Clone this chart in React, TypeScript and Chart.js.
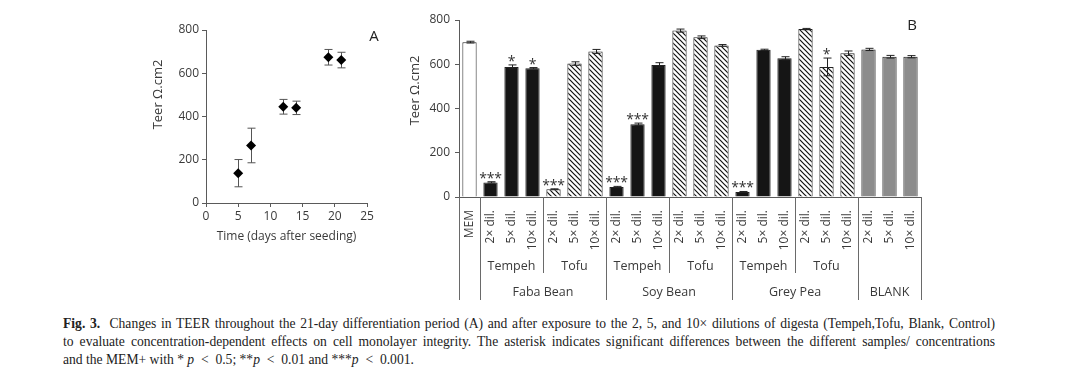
import React, { useEffect, useRef } from "react";
import { Chart, registerables } from "chart.js";
Chart.register(...registerables);

const FONT = "'Open Sans', sans-serif";
const TEXT = "#3a3a3a";
const AXIS = "#5a5a5a";

// ---------- Panel A data ----------
const daysA = [5, 7, 12, 14, 19, 21];
const teerA = [138, 266, 445, 440, 674, 661];
const errA = [63, 80, 34, 31, 36, 36];

// ---------- Panel B data ----------
const labelsB = [
  "MEM",
  "2× dil.", "5× dil.", "10× dil.",
  "2× dil.", "5× dil.", "10× dil.",
  "2× dil.", "5× dil.", "10× dil.",
  "2× dil.", "5× dil.", "10× dil.",
  "2× dil.", "5× dil.", "10× dil.",
  "2× dil.", "5× dil.", "10× dil.",
  "2× dil.", "5× dil.", "10× dil.",
];
const valuesB = [
  700,
  66, 588, 582,
  35, 603, 658,
  45, 329, 597,
  752, 722, 685,
  23, 665, 627,
  759, 588, 650,
  667, 634, 634,
];
const errB = [
  4,
  3, 9, 3,
  2, 8, 9,
  3, 5, 10,
  7, 6, 4,
  2, 3, 7,
  3, 40, 10,
  5, 6, 5,
];
const kindB = [
  "MEM",
  "Tempeh", "Tempeh", "Tempeh", "Tofu", "Tofu", "Tofu",
  "Tempeh", "Tempeh", "Tempeh", "Tofu", "Tofu", "Tofu",
  "Tempeh", "Tempeh", "Tempeh", "Tofu", "Tofu", "Tofu",
  "Blank", "Blank", "Blank",
];
const starsB = [
  "",
  "***", "*", "*", "***", "", "",
  "***", "***", "", "", "", "",
  "***", "", "", "", "*", "",
  "", "", "",
];
const groupNamesB = ["Faba Bean", "Soy Bean", "Grey Pea", "BLANK"];
const groupSizesB = [6, 6, 6, 3];
const subNamesB = [["Tempeh", "Tofu"], ["Tempeh", "Tofu"], ["Tempeh", "Tofu"], []];

function makeHatch(): CanvasPattern | string {
  const c = document.createElement("canvas");
  const s = 5;
  c.width = s;
  c.height = s;
  const g = c.getContext("2d");
  if (!g) return "#fff";
  g.fillStyle = "#fff";
  g.fillRect(0, 0, s, s);
  g.strokeStyle = "#111";
  g.lineWidth = 1.2;
  g.beginPath();
  g.moveTo(-1, -1);
  g.lineTo(s + 1, s + 1);
  g.moveTo(-1, s - 1);
  g.lineTo(1, s + 1);
  g.moveTo(s - 1, -1);
  g.lineTo(s + 1, 1);
  g.stroke();
  return g.createPattern(c, "repeat") || "#fff";
}

const errorPluginA = {
  id: "errA",
  beforeDatasetsDraw(chart: any) {
    const { ctx } = chart;
    const xs = chart.scales.x;
    const ys = chart.scales.y;
    ctx.save();
    ctx.strokeStyle = "#555";
    ctx.lineWidth = 1;
    daysA.forEach((d, i) => {
      const x = Math.round(xs.getPixelForValue(d)) + 0.5;
      const yt = ys.getPixelForValue(teerA[i] + errA[i]);
      const yb = ys.getPixelForValue(teerA[i] - errA[i]);
      ctx.beginPath();
      ctx.moveTo(x, yt);
      ctx.lineTo(x, yb);
      ctx.moveTo(x - 4, yt);
      ctx.lineTo(x + 4, yt);
      ctx.moveTo(x - 4, yb);
      ctx.lineTo(x + 4, yb);
      ctx.stroke();
    });
    ctx.restore();
  },
  afterDraw(chart: any) {
    const { ctx, chartArea } = chart;
    ctx.save();
    ctx.fillStyle = TEXT;
    ctx.font = `13px ${FONT}`;
    ctx.translate(18, (chartArea.top + chartArea.bottom) / 2 - 22);
    ctx.rotate(-Math.PI / 2);
    ctx.textAlign = "center";
    ctx.textBaseline = "middle";
    ctx.fillText("Teer Ω.cm2", 0, 0);
    ctx.restore();
    ctx.save();
    ctx.fillStyle = "#222";
    ctx.font = `15px ${FONT}`;
    ctx.textAlign = "center";
    ctx.textBaseline = "middle";
    ctx.fillText("A", chartArea.right + 7, chartArea.top + 7);
    ctx.restore();
  },
};

const plotPluginB = {
  id: "plotB",
  afterDatasetsDraw(chart: any) {
    const { ctx } = chart;
    const ys = chart.scales.y;
    const meta = chart.getDatasetMeta(0);
    ctx.save();
    ctx.strokeStyle = "#222";
    ctx.lineWidth = 1;
    valuesB.forEach((v, i) => {
      const x = Math.round(meta.data[i].x) + 0.5;
      const yt = ys.getPixelForValue(v + errB[i]);
      const yb = ys.getPixelForValue(v - errB[i]);
      ctx.beginPath();
      ctx.moveTo(x, yt);
      ctx.lineTo(x, yb);
      ctx.moveTo(x - 4, yt);
      ctx.lineTo(x + 4, yt);
      ctx.moveTo(x - 4, yb);
      ctx.lineTo(x + 4, yb);
      ctx.stroke();
    });
    ctx.fillStyle = "#333";
    ctx.font = `14px ${FONT}`;
    ctx.textAlign = "center";
    ctx.textBaseline = "alphabetic";
    starsB.forEach((s, i) => {
      if (!s) return;
      const x = meta.data[i].x;
      const y = ys.getPixelForValue(valuesB[i] + errB[i]) + 1;
      const n = s.length;
      for (let k = 0; k < n; k++) {
        ctx.fillText("*", x + (k - (n - 1) / 2) * 7.5, y);
      }
    });
    ctx.restore();
  },
  afterDraw(chart: any) {
    const { ctx, chartArea } = chart;
    const xs = chart.scales.x;
    const band = xs.getPixelForValue(1) - xs.getPixelForValue(0);
    const edge = (i: number) => xs.getPixelForValue(i) - band / 2;
    const top = xs.top;
    const fullBottom = top + 103;
    const partBottom = top + 76;
    ctx.save();
    ctx.strokeStyle = "#6a6a6a";
    ctx.lineWidth = 1;
    const line = (x: number, y2: number) => {
      const px = Math.round(x) + 0.5;
      ctx.beginPath();
      ctx.moveTo(px, top);
      ctx.lineTo(px, y2);
      ctx.stroke();
    };
    line(edge(0), fullBottom);
    line(edge(1), fullBottom);
    ctx.fillStyle = TEXT;
    ctx.font = `12.5px ${FONT}`;
    ctx.textAlign = "center";
    ctx.textBaseline = "middle";
    let idx = 1;
    groupSizesB.forEach((n, g) => {
      const start = idx;
      const end = idx + n;
      const subs = subNamesB[g];
      if (subs.length) {
        const per = n / subs.length;
        subs.forEach((name, k) => {
          const a = edge(start + k * per);
          const b = edge(start + (k + 1) * per);
          ctx.fillText(name, (a + b) / 2, top + 69);
          if (k > 0) line(a, partBottom);
        });
      }
      ctx.fillText(groupNamesB[g], (edge(start) + edge(end)) / 2, top + 95);
      line(edge(end), fullBottom);
      idx = end;
    });
    ctx.restore();

    ctx.save();
    ctx.fillStyle = TEXT;
    ctx.font = `13px ${FONT}`;
    ctx.translate(15, (chartArea.top + chartArea.bottom) / 2 - 18);
    ctx.rotate(-Math.PI / 2);
    ctx.textAlign = "center";
    ctx.textBaseline = "middle";
    ctx.fillText("Teer Ω.cm2", 0, 0);
    ctx.restore();

    ctx.save();
    ctx.fillStyle = "#222";
    ctx.font = `15px ${FONT}`;
    ctx.textAlign = "center";
    ctx.textBaseline = "middle";
    ctx.fillText("B", chartArea.right - 9, chartArea.top + 6);
    ctx.restore();
  },
};

export default function App() {
  const refA = useRef<HTMLCanvasElement>(null);
  const refB = useRef<HTMLCanvasElement>(null);

  useEffect(() => {
    const tickFont = { family: FONT, size: 12 };
    const hatch = makeHatch();
    const fillFor = (k: string) =>
      k === "Tempeh" ? "#151515" : k === "Tofu" ? hatch : k === "Blank" ? "#8c8c8c" : "#ffffff";

    const a = new Chart(refA.current as HTMLCanvasElement, {
      type: "scatter",
      data: {
        datasets: [
          {
            data: daysA.map((d, i) => ({ x: d, y: teerA[i] })),
            pointStyle: "rectRot",
            pointRadius: 5,
            backgroundColor: "#000",
            borderColor: "#000",
            borderWidth: 0,
          },
        ],
      },
      options: {
        responsive: false,
        animation: false,
        layout: { padding: { left: 0, top: 20, right: 33, bottom: 0 } },
        plugins: { legend: { display: false }, tooltip: { enabled: false } },
        scales: {
          x: {
            type: "linear",
            min: 0,
            max: 25,
            ticks: { stepSize: 5, color: TEXT, font: tickFont, padding: 2 },
            grid: { display: true, drawOnChartArea: false, drawTicks: true, tickLength: 4, color: AXIS },
            border: { display: true, color: AXIS, width: 1 },
            title: {
              display: true,
              text: "Time (days after seeding)",
              color: TEXT,
              font: { family: FONT, size: 12 },
              padding: { top: 0, bottom: 11 },
            },
            afterFit: (s: any) => {
              s.height = 52;
            },
          },
          y: {
            min: 0,
            max: 800,
            ticks: { stepSize: 200, color: TEXT, font: tickFont, padding: 3 },
            grid: { display: true, drawOnChartArea: false, drawTicks: true, tickLength: 4, color: AXIS },
            border: { display: true, color: AXIS, width: 1 },
            afterFit: (s: any) => {
              s.width = 66;
            },
          },
        },
      } as any,
      plugins: [errorPluginA],
    });

    const b = new Chart(refB.current as HTMLCanvasElement, {
      type: "bar",
      data: {
        labels: labelsB,
        datasets: [
          {
            data: valuesB,
            backgroundColor: kindB.map(fillFor) as any,
            borderColor: "#222",
            borderWidth: 1,
            barPercentage: 0.68,
            categoryPercentage: 1,
          },
        ],
      },
      options: {
        responsive: false,
        animation: false,
        layout: { padding: { left: 0, top: 15, right: 19, bottom: 0 } },
        plugins: { legend: { display: false }, tooltip: { enabled: false } },
        scales: {
          x: {
            ticks: { autoSkip: false, minRotation: 90, maxRotation: 90, padding: 5, color: TEXT, font: tickFont },
            grid: { display: false },
            border: { display: true, color: AXIS, width: 1 },
            afterFit: (s: any) => {
              s.height = 113;
            },
          },
          y: {
            min: 0,
            max: 800,
            ticks: { stepSize: 200, color: TEXT, font: tickFont, padding: 5 },
            grid: { display: true, drawOnChartArea: false, drawTicks: true, tickLength: 4, color: AXIS },
            border: { display: true, color: AXIS, width: 1 },
            afterFit: (s: any) => {
              s.width = 59;
            },
          },
        },
      } as any,
      plugins: [plotPluginB],
    });

    return () => {
      a.destroy();
      b.destroy();
    };
  }, []);

  const capLine: React.CSSProperties = {
    whiteSpace: "nowrap",
    height: 18,
    lineHeight: "18px",
  };
  const lt = "\u2002<\u2002";

  return (
    <div
      style={{
        position: "fixed",
        left: 0,
        top: 0,
        width: 1080,
        height: 385,
        background: "#fff",
        overflow: "hidden",
      }}
    >
      <canvas
        ref={refA}
        width={260}
        height={245}
        style={{ position: "absolute", left: 140, top: 10, width: 260, height: 245 }}
      />
      <canvas
        ref={refB}
        width={540}
        height={305}
        style={{ position: "absolute", left: 400, top: 5, width: 540, height: 305 }}
      />
      <div
        style={{
          position: "absolute",
          left: 63,
          top: 315,
          width: 932,
          fontFamily: "'Liberation Serif', serif",
          fontSize: 13.6,
          color: "#222",
        }}
      >
        <div style={{ ...capLine, textAlign: "justify", textAlignLast: "justify" }}>
          <b>Fig. 3.</b>&nbsp;&nbsp;Changes in TEER throughout the 21-day differentiation period (A) and after exposure to
          the 2, 5, and 10× dilutions of digesta (Tempeh,Tofu, Blank, Control)
        </div>
        <div style={{ ...capLine, textAlign: "justify", textAlignLast: "justify" }}>
          to evaluate concentration-dependent effects on cell monolayer integrity. The asterisk indicates significant
          differences between the different samples/ concentrations
        </div>
        <div style={capLine}>
          and the MEM+ with * <i>p</i>{lt}0.5; **<i>p</i>{lt}0.01 and ***<i>p</i>{lt}0.001.
        </div>
      </div>
    </div>
  );
}
